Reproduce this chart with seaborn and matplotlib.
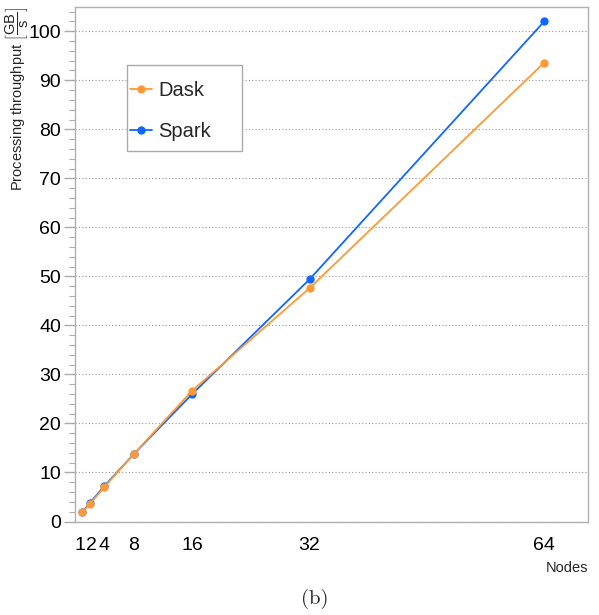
import pandas as pd
import matplotlib.pyplot as plt
import matplotlib.transforms as mtrans
from matplotlib.patches import Rectangle
import seaborn as sns

# Values
nodes = [1, 2, 4, 8, 16, 32, 64]
dask = [1.9, 3.5, 7.0, 13.7, 26.7, 47.6, 93.6]
spark = [1.9, 3.7, 7.2, 13.7, 26.0, 49.4, 102.0]
x_ticks = [1, 2, 4, 8, 16, 32, 64]
y_ticks = list(range(0, 101, 10))

df = pd.DataFrame({
    'nodes': nodes * 2,
    'throughput': dask + spark,
    'framework': ['Dask'] * len(nodes) + ['Spark'] * len(nodes),
})

sns.set_style("white")
plt.rcParams['font.family'] = ['Liberation Sans', 'DejaVu Sans']
plt.rcParams['mathtext.fontset'] = 'custom'
plt.rcParams['mathtext.rm'] = 'Liberation Sans'

fig = plt.figure(figsize=(5.99, 6.15), dpi=100)
ax = fig.add_axes([0.125, 0.152, 0.857, 0.837])

# Spark first so Dask sits on top, as in the reference
palette = {'Dask': '#ff9933', 'Spark': '#1166ff'}
sns.lineplot(data=df, x='nodes', y='throughput', hue='framework',
             hue_order=['Spark', 'Dask'], palette=palette, marker='o',
             markersize=6, markeredgewidth=0, linewidth=1.3, ax=ax)

ax.set_xlim(0, 70)
ax.set_ylim(0, 105)
ax.set_xticks(x_ticks)
ax.set_xticklabels([str(t) for t in x_ticks])
ax.set_yticks(y_ticks)
ax.set_yticks(range(0, 105, 2), minor=True)
ax.tick_params(axis='both', which='both', labelsize=14, colors='#aaaaaa', labelcolor='black')
ax.tick_params(axis='x', length=9, width=1.2, pad=2)
ax.tick_params(axis='y', which='major', length=8, width=1, left=True, pad=2)
ax.tick_params(axis='y', which='minor', length=4, width=0.8, left=True)
ax.tick_params(axis='x', which='minor', bottom=False)
ax.grid(axis='y', which='major', linestyle=(0, (1, 2)), color='#999999', linewidth=0.8)
ax.set_axisbelow(True)
for s in ax.spines.values():
    s.set_color('#b0b0b0')
    s.set_linewidth(1)

# nudge the crowded "1" and "2" labels apart a little
xl = ax.get_xticklabels()
xl[0].set_transform(xl[0].get_transform() + mtrans.ScaledTranslation(-2/100, 0, fig.dpi_scale_trans))
xl[1].set_transform(xl[1].get_transform() + mtrans.ScaledTranslation(2/100, 0, fig.dpi_scale_trans))

ax.set_xlabel('')
ax.set_ylabel(r'Processing throughput $\left[\dfrac{\mathrm{GB}}{\mathrm{s}}\right]$', fontsize=10.5)
ax.yaxis.set_label_coords(-0.085, 1.0)
ax.yaxis.label.set_horizontalalignment('right')
fig.text(0.982, 0.077, 'Nodes', ha='right', va='center', fontsize=10.5)

# legend box drawn separately, ROOT-style with roomy padding
ax.add_patch(Rectangle((0.101, 0.72), 0.225, 0.167, transform=ax.transAxes,
                       facecolor='white', edgecolor='#aaaaaa', linewidth=1, zorder=4))
handles, labels = ax.get_legend_handles_labels()
leg = ax.legend(handles[::-1], labels[::-1], loc='upper left',
                bbox_to_anchor=(0.107, 0.856), borderaxespad=0, borderpad=0,
                fontsize=14.5, frameon=False, labelspacing=1.1,
                handlelength=1.1, handletextpad=0.3)
leg.set_zorder(5)

fig.text(0.526, 0.01, '(b)', ha='center', va='bottom', fontsize=15,
         family='cmr10')

fig.savefig('out.png', dpi=100)
